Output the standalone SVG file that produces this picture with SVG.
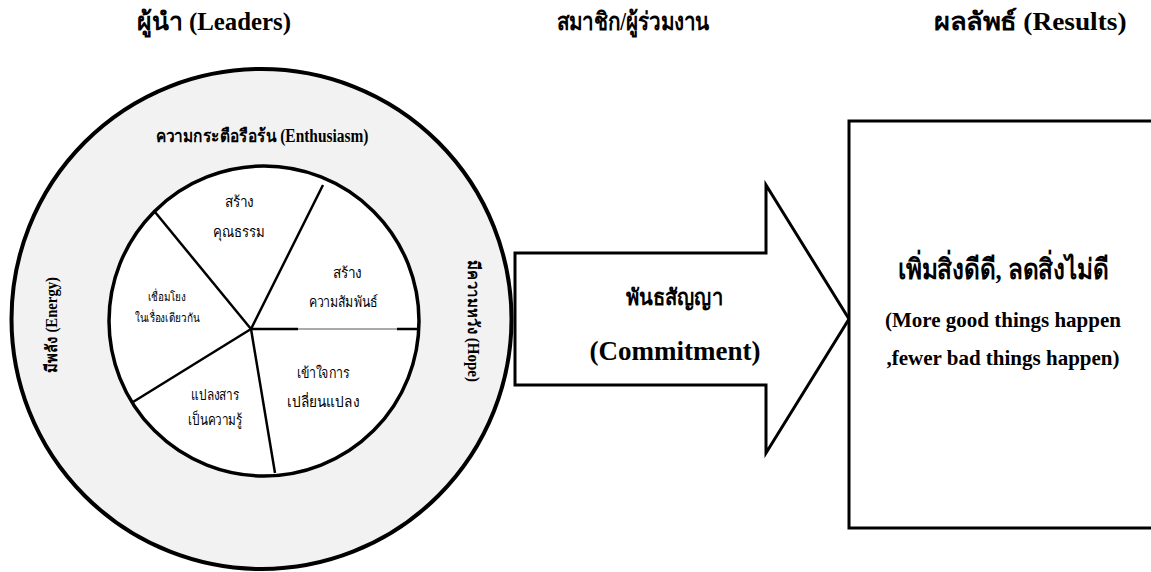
<svg xmlns="http://www.w3.org/2000/svg" width="1151" height="572" viewBox="0 0 1151 572">
<style>
text{font-family:"Liberation Serif","DejaVu Serif",serif;fill:#000;text-anchor:middle}
.hd{font-size:25px;font-weight:bold}
.b18{font-size:18px;font-weight:bold}
.in{font-size:15px}
.sm{font-size:12px}
.ln{stroke:#000;stroke-width:2.5;fill:none}
</style>
<rect width="1151" height="572" fill="#fff"/>
<g id="headers">
<text class="hd" x="214" y="30" textLength="154" lengthAdjust="spacingAndGlyphs">ผู้นำ (Leaders)</text>
<text class="hd" x="633" y="30" textLength="153" lengthAdjust="spacingAndGlyphs">สมาชิก/ผู้ร่วมงาน</text>
<text class="hd" x="1030" y="30" textLength="193" lengthAdjust="spacingAndGlyphs">ผลลัพธ์ (Results)</text>
</g>
<g id="leaders">
<circle cx="261.5" cy="319" r="250" fill="#f2f2f2" stroke="#000" stroke-width="4"/>
<text class="b18" x="262" y="142" textLength="213" lengthAdjust="spacingAndGlyphs">ความกระตือรือร้น (Enthusiasm)</text>
<text class="b18" transform="translate(57,325) rotate(-90)" style="font-size:16px" textLength="96" lengthAdjust="spacingAndGlyphs">มีพลัง (Energy)</text>
<text class="b18" transform="translate(468,321) rotate(90)" style="font-size:16px" textLength="122" lengthAdjust="spacingAndGlyphs">มีความหวัง (Hope)</text>
<circle cx="264" cy="321" r="155" fill="#fff" stroke="#000" stroke-width="3.5"/>
<line class="ln" x1="251" y1="329" x2="155" y2="212"/>
<line class="ln" x1="251" y1="329" x2="323" y2="185"/>
<line class="ln" x1="251" y1="329" x2="275" y2="473"/>
<line class="ln" x1="251" y1="329" x2="133" y2="402"/>
<line class="ln" x1="251" y1="329" x2="298" y2="329"/>
<line x1="298" y1="329" x2="397" y2="329" stroke="#555" stroke-width="1"/>
<line class="ln" x1="397" y1="329" x2="419" y2="329"/>
<text class="in" x="239" y="207" textLength="29" lengthAdjust="spacingAndGlyphs">สร้าง</text>
<text class="in" x="239" y="237" textLength="52" lengthAdjust="spacingAndGlyphs">คุณธรรม</text>
<text class="in" x="347" y="278" textLength="29" lengthAdjust="spacingAndGlyphs">สร้าง</text>
<text class="in" x="343" y="307" textLength="69" lengthAdjust="spacingAndGlyphs">ความสัมพันธ์</text>
<text class="sm" x="167" y="301" textLength="38" lengthAdjust="spacingAndGlyphs">เชื่อมโยง</text>
<text class="sm" x="167" y="322" textLength="65" lengthAdjust="spacingAndGlyphs">ในเรื่องเดียวกัน</text>
<text class="in" x="323" y="378" textLength="53" lengthAdjust="spacingAndGlyphs">เข้าใจการ</text>
<text class="in" x="323" y="407" textLength="72" lengthAdjust="spacingAndGlyphs">เปลี่ยนแปลง</text>
<text class="in" x="215" y="400" textLength="48" lengthAdjust="spacingAndGlyphs">แปลงสาร</text>
<text class="in" x="215" y="425" textLength="54" lengthAdjust="spacingAndGlyphs">เป็นความรู้</text>
</g>
<g id="connectors">
<polygon points="515,253 766,253 766,185 849,319 766,453 766,385 515,385" fill="#fff" stroke="#000" stroke-width="3" stroke-linejoin="miter"/>
</g>
<g id="commitment">
<text x="674" y="305" style="font-size:22px;font-weight:bold" textLength="97" lengthAdjust="spacingAndGlyphs">พันธสัญญา</text>
<text x="675" y="360" style="font-size:27px;font-weight:bold">(Commitment)</text>
</g>
<g id="results">
<rect x="849" y="121" width="320" height="407" fill="#fff" stroke="#000" stroke-width="3"/>
<text x="1003" y="279" style="font-size:28px;font-weight:bold" textLength="211" lengthAdjust="spacingAndGlyphs">เพิ่มสิ่งดีดี, ลดสิ่งไม่ดี</text>
<text x="1003" y="327" style="font-size:21px;font-weight:bold">(More good things happen</text>
<text x="1003" y="365" style="font-size:21px;font-weight:bold">,fewer bad things happen)</text>
</g>
</svg>
